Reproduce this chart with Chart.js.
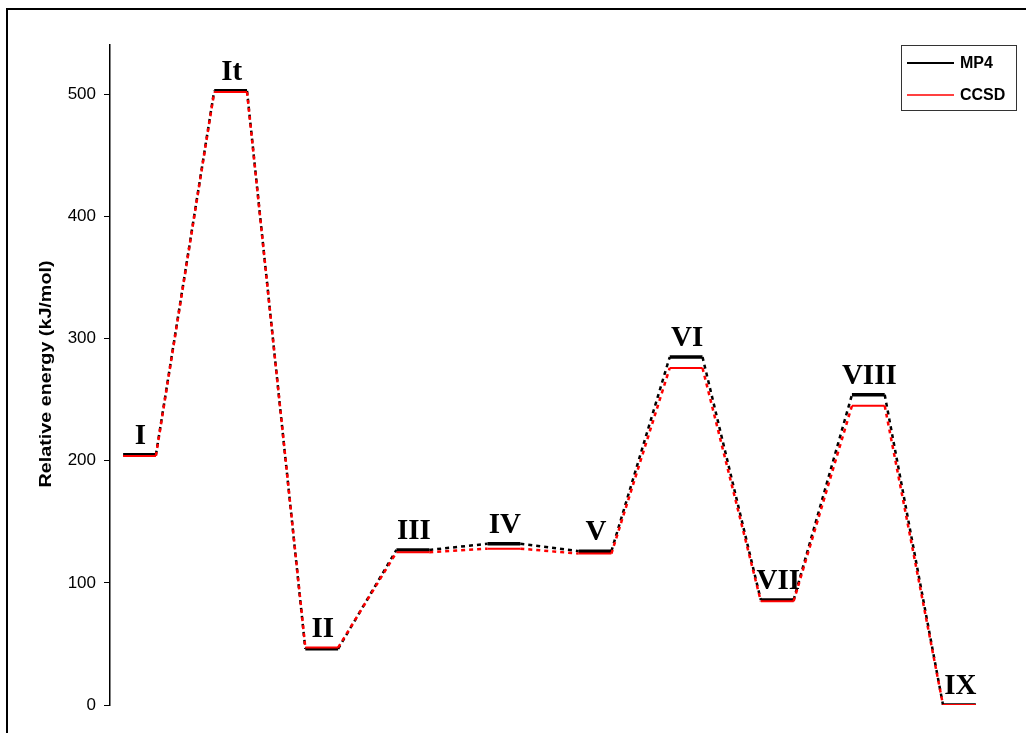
<!DOCTYPE html>
<html>
<head>
<meta charset="utf-8">
<script src="https://cdn.jsdelivr.net/npm/chart.js@4/dist/chart.umd.min.js"></script>
<style>
  html, body { margin: 0; padding: 0; background: #fff; overflow: hidden; }
  #box { width: 1026px; height: 733px; position: relative; }
</style>
</head>
<body>
<div id="box"><canvas id="energyChart"></canvas></div>
<script>
// states along the reaction path
var states = ['I', 'It', 'II', 'III', 'IV', 'V', 'VI', 'VII', 'VIII', 'IX'];
// relative energies, kJ/mol
var mp4 = [205, 503, 46, 127, 132, 126, 285, 86, 254, 0];
var ccsd = [204, 502, 47, 125, 128, 124, 276, 85, 245, 0];
var yTicks = [0, 100, 200, 300, 400, 500];
var yTitle = 'Relative energy (kJ/mol)';

var halfLevel = 0.18;

// each state becomes a short flat level; the segment between levels is dashed
function levelPoints(values) {
    var pts = [];
    values.forEach(function(v, i) {
        pts.push({x: i - halfLevel, y: v});
        pts.push({x: i + halfLevel, y: v});
    });
    return pts;
}

function isLevel(ctx) { return ctx.p0DataIndex % 2 === 0; }

var labelPlugin = {
    id: 'stateLabels',
    afterDatasetsDraw: function(chart) {
        var c = chart.ctx, xs = chart.scales.x, ys = chart.scales.y;
        c.save();
        c.fillStyle = '#000';
        c.font = 'bold 29px "Liberation Serif", "Times New Roman", serif';
        c.textAlign = 'center';
        c.textBaseline = 'alphabetic';
        states.forEach(function(s, i) {
            var top = Math.max(mp4[i], ccsd[i]);
            c.fillText(s, xs.getPixelForValue(i) + 1, ys.getPixelForValue(top) - 11);
        });
        c.restore();
    }
};

var framePlugin = {
    id: 'frameAndLegend',
    beforeDraw: function(chart) {
        var c = chart.ctx;
        c.save();
        c.fillStyle = '#fff';
        c.fillRect(0, 0, chart.width, chart.height);
        c.restore();
    },
    afterDraw: function(chart) {
        var c = chart.ctx;
        c.save();
        // outer frame, cut off at right and bottom
        c.strokeStyle = '#000';
        c.lineWidth = 2;
        c.strokeRect(7, 9, 1100, 800);

        // axis title
        c.fillStyle = '#000';
        c.font = 'bold 17px "Liberation Sans", Arial, sans-serif';
        c.textAlign = 'center';
        c.textBaseline = 'middle';
        var w = c.measureText(yTitle).width;
        c.translate(46, 374);
        c.rotate(-Math.PI / 2);
        c.scale(227 / w, 1);
        c.fillText(yTitle, 0, 0);
        c.restore();

        // legend box
        c.save();
        c.strokeStyle = '#333';
        c.lineWidth = 1;
        c.strokeRect(901.5, 45.5, 115, 65);
        var rows = [63, 95];
        chart.data.datasets.forEach(function(ds, k) {
            c.strokeStyle = ds.borderColor;
            c.lineWidth = k === 0 ? 2 : 1.5;
            c.beginPath();
            c.moveTo(907, rows[k]);
            c.lineTo(954, rows[k]);
            c.stroke();
            c.fillStyle = '#000';
            c.font = 'bold 16px "Liberation Sans", Arial, sans-serif';
            c.textAlign = 'left';
            c.textBaseline = 'middle';
            c.fillText(ds.label, 960, rows[k] + 1);
        });
        c.restore();
    }
};

document.addEventListener('DOMContentLoaded', function() {
    var data = {
        datasets: [{
            label: 'MP4',
            data: levelPoints(mp4),
            borderColor: '#000',
            borderWidth: 2,
            pointRadius: 0,
            order: 1,
            segment: {
                borderDash: function(ctx) { return isLevel(ctx) ? [] : [4, 4]; },
                borderWidth: function(ctx) { return isLevel(ctx) ? 3.5 : 2.5; }
            }
        }, {
            label: 'CCSD',
            data: levelPoints(ccsd),
            borderColor: '#ff0000',
            borderWidth: 2,
            pointRadius: 0,
            order: 0,
            segment: {
                borderDash: function(ctx) { return isLevel(ctx) ? [] : [4, 4]; },
                borderWidth: function(ctx) { return isLevel(ctx) ? 2 : 2.5; }
            }
        }]
    };

    var options = {
        responsive: true,
        maintainAspectRatio: false,
        animation: false,
        layout: { padding: { left: 0, right: 6, top: 45, bottom: 28 } },
        plugins: {
            legend: { display: false },
            tooltip: { enabled: false }
        },
        scales: {
            x: {
                type: 'linear',
                min: -0.324,
                max: 9.665,
                display: false
            },
            y: {
                min: 0,
                max: 540.5,
                ticks: {
                    stepSize: 100,
                    padding: 8,
                    color: '#000',
                    font: { family: '"Liberation Sans", Arial, sans-serif', size: 17 }
                },
                afterBuildTicks: function(scale) {
                    scale.ticks = yTicks.map(function(v) { return {value: v}; });
                },
                afterFit: function(scale) { scale.width = 110; },
                grid: {
                    drawOnChartArea: false,
                    drawTicks: true,
                    tickLength: 6,
                    tickColor: '#000'
                },
                border: { display: true, color: '#000', width: 1.5 }
            }
        }
    };

    var ctx = document.getElementById('energyChart').getContext('2d');
    new Chart(ctx, {
        type: 'line',
        data: data,
        options: options,
        plugins: [framePlugin, labelPlugin]
    });
});
</script>
</body>
</html>
